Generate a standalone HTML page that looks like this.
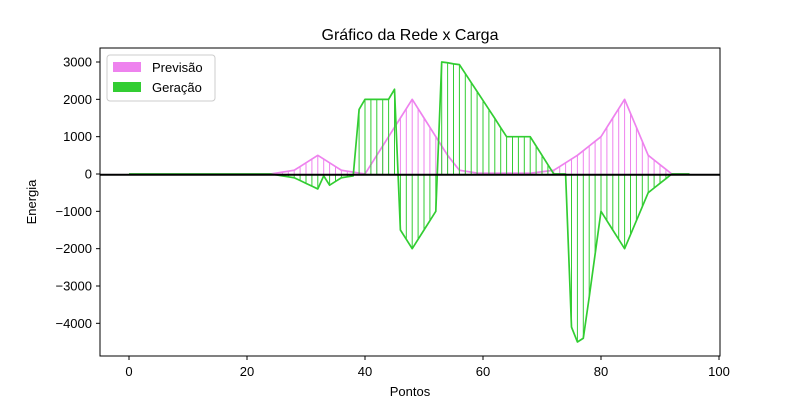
<!DOCTYPE html>
<html><head><meta charset="utf-8"><style>
body{margin:0;background:#fff;}
svg{display:block;font-family:"Liberation Sans","DejaVu Sans",sans-serif;}
</style></head><body>
<svg id="chart" width="800" height="400" xmlns="http://www.w3.org/2000/svg">
<rect width="800" height="400" fill="#fff"/>
<text x="410" y="40" font-size="16" text-anchor="middle">Gráfico da Rede x Carga</text>
<text x="410" y="396" font-size="13" text-anchor="middle">Pontos</text>
<text x="36" y="202" font-size="13" text-anchor="middle" transform="rotate(-90 36 202)">Energia</text>
<g id="plot"></g>
<rect x="100" y="48" width="620" height="308" fill="none" stroke="#000" stroke-width="1"/>
<g id="ticks"></g>
<g>
<rect x="107" y="55" width="108" height="46" rx="3" fill="#fff" stroke="#ccc" stroke-width="1"/>
<rect x="113" y="62" width="28" height="10" fill="violet"/>
<text x="152" y="72" font-size="13">Previsão</text>
<rect x="113" y="82" width="28" height="10" fill="#32cd32"/>
<text x="152" y="92" font-size="13">Geração</text>
</g>
</svg>
<script>
const previsao = [0,0,0,0,0,0,0,0,0,0,0,0,0,0,0,0,0,0,0,0,0,0,0,0,
0,25,50,75,100,200,300,400,500,400,300,200,100,75,50,25,
0,250,500,750,1000,1250,1500,1750,2000,1750,1500,1250,1000,750,500,300,
100,75,50,25,20,20,20,20,20,20,20,20,20,40,60,80,
100,200,300,400,500,625,750,875,1000,1250,1500,1750,2000,1625,1250,875,
500,375,250,125,0,0,0,0];
const geracao = [0,0,0,0,0,0,0,0,0,0,0,0,0,0,0,0,0,0,0,0,0,0,0,0,
0,-25,-50,-75,-100,-175,-250,-325,-400,-50,-300,-200,-100,-75,-50,1730,
2000,2000,2000,2000,2000,2270,-1500,-1750,-2000,-1750,-1500,-1250,-1000,3000,2980,2950,
2930,2690,2450,2210,1970,1730,1490,1240,1000,1000,1000,1000,1000,750,500,250,
0,0,0,-4100,-4500,-4400,-3300,-2150,-1000,-1250,-1500,-1750,-2000,-1625,-1250,-875,
-500,-375,-250,-125,0,0,0,0];
const xTicks = [0,20,40,60,80,100];
const yTicks = [3000,2000,1000,0,-1000,-2000,-3000,-4000];

const X = v => 129 + v*5.9;
const Y = v => 174 - v*0.03733;
const NS = "http://www.w3.org/2000/svg";
const plot = document.getElementById('plot');
const ticks = document.getElementById('ticks');
function mk(tag, attrs, parent){const e=document.createElementNS(NS,tag);for(const k in attrs)e.setAttribute(k,attrs[k]);parent.appendChild(e);return e;}

function series(data, color, name){
  const g = mk('g',{},plot);
  
  
  data.forEach((v,i)=>{
    const l = mk('line',{x1:X(i),x2:X(i),y1:Y(0),y2:Y(v),stroke:color,'stroke-width':1},g);
    
    
  });
  const p = mk('polyline',{points:data.map((v,i)=>X(i)+','+Y(v)).join(' '),fill:'none',stroke:color,'stroke-width':1.7,'stroke-linejoin':'round'},g);
  
  
}
series(previsao,'violet','previsao');
series(geracao,'#32cd32','geracao');
const zl = mk('line',{x1:100,x2:720,y1:Y(0)+0.7,y2:Y(0)+0.7,stroke:'#000','stroke-width':2},plot);



xTicks.forEach(t=>{
  const l = mk('line',{x1:X(t),x2:X(t),y1:356,y2:360,stroke:'#000'},ticks);
  
  
  const tx = mk('text',{x:X(t),y:376,'font-size':13,'text-anchor':'middle'},ticks);
  tx.textContent = t;
  
  
});
yTicks.forEach(t=>{
  const l = mk('line',{x1:96,x2:100,y1:Y(t),y2:Y(t),stroke:'#000'},ticks);
  
  
  const tx = mk('text',{x:92,y:Y(t)+4.5,'font-size':13,'text-anchor':'end'},ticks);
  tx.textContent = t<0 ? '\u2212'+Math.abs(t) : t;
  
  
});
</script>
</body></html>
